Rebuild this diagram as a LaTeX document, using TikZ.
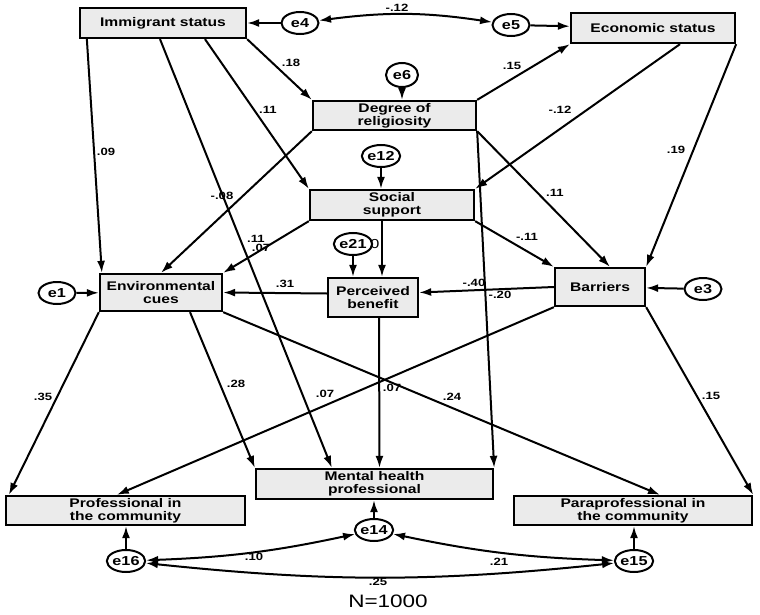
\documentclass[tikz,border=0pt]{standalone}
\usepackage{fontspec}
\setmainfont{Liberation Sans}[FakeStretch=1.25]
\usetikzlibrary{arrows.meta,shapes.geometric}

\begin{document}
\begin{tikzpicture}[x=1pt,y=-1pt,%%
  boxStyle/.style={draw,line width=2.3pt,fill=black!8,align=center,inner sep=0pt,
    font=\bfseries\fontsize{12.5}{13}\selectfont},%%
  errStyle/.style={draw,ellipse,line width=2pt,fill=white,inner sep=0pt,
    minimum width=37pt,minimum height=22pt,font=\bfseries\fontsize{13}{13}\selectfont},%%
  pathStyle/.style={-{Latex[length=12pt,width=8pt]},line width=2pt},%%
  covStyle/.style={{Latex[length=12pt,width=8pt]}-{Latex[length=12pt,width=8pt]},line width=2pt},%%
  coefStyle/.style={inner sep=0pt,font=\bfseries\fontsize{10.5}{10.5}\selectfont}
]
%%
\useasboundingbox (0,0) rectangle (760,615);
%%
%% Observed variables.
%%
\node[boxStyle,minimum width=166pt,minimum height=30pt] (immigrant) at (163,23) {Immigrant status};
\node[boxStyle,minimum width=164pt,minimum height=30pt] (economic) at (653,28) {Economic status};
\node[boxStyle,minimum width=163pt,minimum height=29pt] (religiosity) at (394.5,115.5) {Degree of\\religiosity};
\node[boxStyle,minimum width=164pt,minimum height=30pt] (support) at (392,205) {Social\\support};
\node[boxStyle,minimum width=122pt,minimum height=37pt] (cues) at (161,292.5) {Environmental\\cues};
\node[boxStyle,minimum width=90pt,minimum height=39pt] (benefit) at (373,297.5) {Perceived\\benefit};
\node[boxStyle,minimum width=90pt,minimum height=38pt] (barriers) at (600,287) {Barriers};
\node[boxStyle,minimum width=237pt,minimum height=30pt] (mental) at (374.5,484) {Mental health\\professional};
\node[boxStyle,minimum width=239pt,minimum height=29pt] (profcomm) at (125.5,510.5) {Professional in\\the community};
\node[boxStyle,minimum width=238pt,minimum height=29pt] (paracomm) at (633,510.5) {Paraprofessional in\\the community};
%%
%% Error terms.
%%
\node[errStyle] (e4) at (300,23) {e4};
\node[errStyle] (e5) at (511,25) {e5};
\node[errStyle,minimum width=32pt,minimum height=24pt] (e6) at (402,75) {e6};
\node[errStyle] (e12) at (381,156) {e12};
\node[errStyle] (e21) at (353,244) {e21};
\node[inner sep=0pt,font=\fontsize{13}{13}\selectfont] (e21var) at (375,244) {0};
\node[errStyle] (e1) at (57,293) {e1};
\node[errStyle] (e3) at (703,289) {e3};
\node[errStyle] (e14) at (374,530) {e14};
\node[errStyle] (e16) at (126,561) {e16};
\node[errStyle] (e15) at (634,561) {e15};
%%
\draw[pathStyle] (e4) -- (immigrant);
\draw[pathStyle] (e5) -- (economic);
\draw[pathStyle] (e6) -- (e6 |- religiosity.north);
\draw[pathStyle] (e12) -- (e12 |- support.north);
\draw[pathStyle] (e21) -- (e21 |- benefit.north);
\draw[pathStyle] (e1) -- (cues);
\draw[pathStyle] (e3) -- (barriers);
\draw[pathStyle] (e14) -- (e14 |- mental.south);
\draw[pathStyle] (e16) -- (e16 |- profcomm.south);
\draw[pathStyle] (e15) -- (e15 |- paracomm.south);
%% Covariances between the error terms.
\draw[covStyle] (e4) to[bend left=8] (e5);
\draw[covStyle] (e16) to[bend right=5] (e14);
\draw[covStyle] (e14) to[bend right=5] (e15);
\draw[covStyle] (e16) to[bend right=6] (e15);
%%
%% Paths from immigrant status.
%%
\draw[pathStyle] ([xshift=8pt]immigrant.south west) -- ([xshift=3pt]cues.north west);
\draw[pathStyle] ([xshift=-3pt]immigrant.south) -- ([xshift=77pt]mental.north west);
\draw[pathStyle] ([xshift=42pt]immigrant.south) -- (support.north west);
\draw[pathStyle] (immigrant.south east) -- (religiosity.north west);
%% Paths from economic status.
\draw[pathStyle] (religiosity.north east) -- (economic.south west);
\draw[pathStyle] ([xshift=27pt]economic.south) -- (support.north east);
\draw[pathStyle] (economic.south east) -- (barriers.north east);
%% Paths from degree of religiosity.
\draw[pathStyle] (religiosity.south west) -- (cues.north);
\draw[pathStyle] (religiosity.south east) -- ([xshift=10pt]barriers.north);
\draw[pathStyle] (religiosity.south east) -- (mental.north east);
%% Paths from social support.
\draw[pathStyle] (support.south west) -- (cues.north east);
\draw[pathStyle] ([xshift=-10pt]support.south) -- ([xshift=9pt]benefit.north);
\draw[pathStyle] (support.south east) -- (barriers.north west);
%% Barriers and perceived benefit.
\draw[pathStyle] (barriers.west) -- ([yshift=5pt]benefit.east);
\draw[pathStyle] ([yshift=4pt]benefit.west) -- (cues.east);
\draw[pathStyle] ([xshift=6pt]benefit.south) -- ([xshift=5pt]mental.north);
\draw[pathStyle] (barriers.south west) -- ([xshift=112pt]profcomm.north west);
\draw[pathStyle] (barriers.south east) -- (paracomm.north east);
%% Paths from environmental cues.
\draw[pathStyle] (cues.south west) -- ([xshift=4pt]profcomm.north west);
\draw[pathStyle] ([xshift=29pt]cues.south) -- (mental.north west);
\draw[pathStyle] (cues.south east) -- ([xshift=27pt]paracomm.north);
%%
%% Coefficients.
%%
\node[coefStyle] (cImmEco) at (397,8) {-.12};
\node[coefStyle] (cImmCues) at (106,152) {.09};
\node[coefStyle] (cImmRel) at (291,63) {.18};
\node[coefStyle] (cImmSup) at (268,110) {.11};
\node[coefStyle] (cRelEco) at (512,66) {.15};
\node[coefStyle] (cEcoSup) at (560,110) {-.12};
\node[coefStyle] (cEcoBar) at (676,150) {.19};
\node[coefStyle] (cRelCues) at (222,196) {-.08};
\node[coefStyle] (cRelBar) at (555,193) {.11};
\node[coefStyle] (cImmMen) at (256,239) {.11};
\node[coefStyle] (cSupCues) at (261,248) {.07};
\node[coefStyle] (cSupBar) at (527,237) {-.11};
\node[coefStyle] (cBarBen) at (474,283) {-.40};
\node[coefStyle] (cRelMen) at (500,295) {-.20};
\node[coefStyle] (cBenCues) at (285,284) {.31};
\node[coefStyle] (cCuesPro) at (43,397) {.35};
\node[coefStyle] (cCuesMen) at (236,384) {.28};
\node[coefStyle] (cBarPro) at (325,394) {.07};
\node[coefStyle] (cBenMen) at (392,388) {.07};
\node[coefStyle] (cCuesPara) at (452,397) {.24};
\node[coefStyle] (cBarPara) at (711,396) {.15};
\node[coefStyle] (cE16E14) at (254,557) {.10};
\node[coefStyle] (cE14E15) at (499,562) {.21};
\node[coefStyle] (cE16E15) at (378,582) {.25};
%%
\node[font=\fontsize{18}{18}\selectfont] (sample) at (388,601) {N=1000};
\end{tikzpicture}
\end{document}
